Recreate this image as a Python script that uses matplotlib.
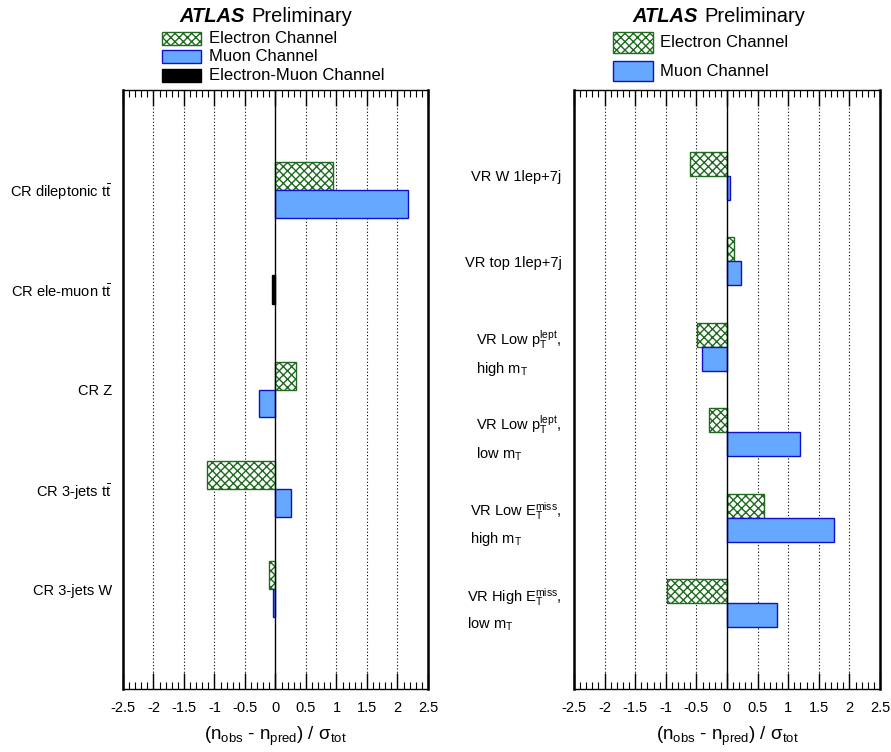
import numpy as np
import matplotlib
matplotlib.use("Agg")
import matplotlib.pyplot as plt
from matplotlib.patches import Rectangle

plt.rcParams["font.family"] = ["Liberation Sans", "DejaVu Sans"]
plt.rcParams["mathtext.fontset"] = "custom"
plt.rcParams["mathtext.rm"] = "Liberation Sans"
plt.rcParams["mathtext.it"] = "Liberation Sans:italic"
plt.rcParams["mathtext.bf"] = "Liberation Sans:bold"
plt.rcParams["hatch.linewidth"] = 1.0

# ---------------- data ----------------
cr_labels = [r"CR dileptonic t$\bar{\mathrm{t}}$", r"CR ele-muon t$\bar{\mathrm{t}}$",
             "CR Z", r"CR 3-jets t$\bar{\mathrm{t}}$", "CR 3-jets W"]
cr_electron = [0.95, np.nan, 0.34, -1.13, -0.10]
cr_muon = [2.18, np.nan, -0.27, 0.25, -0.04]
cr_elemu = [np.nan, -0.05, np.nan, np.nan, np.nan]

vr_labels = ["VR W 1lep+7j", "VR top 1lep+7j",
             "VR Low $\\mathrm{p}_{\\mathrm{T}}^{\\mathrm{lept}}$,\nhigh $\\mathrm{m}_{\\mathrm{T}}$",
             "VR Low $\\mathrm{p}_{\\mathrm{T}}^{\\mathrm{lept}}$,\nlow $\\mathrm{m}_{\\mathrm{T}}$",
             "VR Low $\\mathrm{E}_{\\mathrm{T}}^{\\mathrm{miss}}$,\nhigh $\\mathrm{m}_{\\mathrm{T}}$",
             "VR High $\\mathrm{E}_{\\mathrm{T}}^{\\mathrm{miss}}$,\nlow $\\mathrm{m}_{\\mathrm{T}}$"]
vr_electron = [-0.60, 0.12, -0.49, -0.29, 0.61, -0.98]
vr_muon = [0.05, 0.23, -0.41, 1.20, 1.75, 0.81]

GREEN = "#1f6a1f"
BLUE_FILL = "#66a8ff"
BLUE_EDGE = "#1010cc"
ele_style = dict(facecolor="white", edgecolor=GREEN, hatch="xxxx", linewidth=1.0)
mu_style = dict(facecolor=BLUE_FILL, edgecolor=BLUE_EDGE, linewidth=1.0)
emu_style = dict(facecolor="black", edgecolor="black", linewidth=1.0)

W, H = 891, 752
fig = plt.figure(figsize=(W / 100, H / 100), dpi=100)


def fx(x):
    return x / W


def fy(y):
    return 1 - y / H


def setup_axes(ax, labels, pad):
    n = len(labels)
    ax.set_xlim(-2.5, 2.5)
    ax.set_ylim(n + 1, 0)
    for v in [-2, -1.5, -1, -0.5, 0.5, 1, 1.5, 2]:
        ax.axvline(v, color="black", ls=(0, (1, 2)), lw=0.8, zorder=0)
    ax.axvline(0, color="black", lw=1.0, zorder=3)
    ax.set_xticks(np.arange(-2.5, 2.51, 0.5))
    ax.set_xticklabels(["-2.5", "-2", "-1.5", "-1", "-0.5", "0", "0.5", "1", "1.5", "2", "2.5"])
    ax.set_xticks(np.arange(-2.5, 2.51, 0.1), minor=True)
    ax.tick_params(axis="x", which="both", direction="in", top=True, bottom=True,
                   labelsize=10.5, pad=9)
    ax.tick_params(axis="x", which="major", length=11.5, width=1.0)
    ax.tick_params(axis="x", which="minor", length=5, width=0.8)
    ax.set_yticks(np.arange(1, n + 1))
    ax.set_yticklabels(labels, multialignment="left", linespacing=1.6)
    ax.tick_params(axis="y", length=0, labelsize=10.5, pad=pad)
    ax.spines["left"].set_linewidth(1.8)
    ax.spines["right"].set_linewidth(1.8)
    ax.spines["top"].set_linewidth(1.0)
    ax.spines["bottom"].set_linewidth(1.0)


def title(xr, xl):
    fig.text(fx(xr), fy(22), "ATLAS", ha="right", va="baseline", fontsize=14.5,
             fontweight="bold", fontstyle="italic")
    fig.text(fx(xl), fy(22), "Preliminary", ha="left", va="baseline", fontsize=14.5)


def legend_entry(x0, x1, y0, y1, style, text, tx):
    fig.add_artist(Rectangle((fx(x0), fy(y1)), fx(x1 - x0), (y1 - y0) / H,
                             transform=fig.transFigure, **style))
    fig.text(fx(tx), fy((y0 + y1) / 2), text, ha="left", va="center", fontsize=12)


# ---------------- left panel: control regions ----------------
ax1 = fig.add_axes([fx(123), fy(689), fx(428 - 123), (689 - 90) / H])
pos = np.arange(1, len(cr_labels) + 1)
bh = 0.28
ax1.barh(pos - bh / 2, cr_electron, height=bh, zorder=2, **ele_style)
ax1.barh(pos + bh / 2, cr_muon, height=bh, zorder=2, **mu_style)
ax1.barh(pos, cr_elemu, height=0.29, zorder=2, **emu_style)
setup_axes(ax1, cr_labels, pad=8)

title(245, 251)
legend_entry(162, 201, 32, 45, ele_style, "Electron Channel", 209)
legend_entry(162, 201, 50, 63, mu_style, "Muon Channel", 209)
legend_entry(162, 201, 69, 82, emu_style, "Electron-Muon Channel", 209)

# ---------------- right panel: validation regions ----------------
ax2 = fig.add_axes([fx(574), fy(689), fx(880 - 574), (689 - 90) / H])
pos = np.arange(1, len(vr_labels) + 1)
ax2.barh(pos - bh / 2, vr_electron, height=bh, zorder=2, **ele_style)
ax2.barh(pos + bh / 2, vr_muon, height=bh, zorder=2, **mu_style)
setup_axes(ax2, vr_labels, pad=9)

title(698, 704)
legend_entry(613, 653, 32, 53, ele_style, "Electron Channel", 660)
legend_entry(613, 653, 61, 81, mu_style, "Muon Channel", 660)

for cx in (275, 727):
    fig.text(fx(cx), fy(740), "(n$_{\\mathrm{obs}}$ - n$_{\\mathrm{pred}}$) / σ$_{\\mathrm{tot}}$",
             ha="center", va="baseline", fontsize=13.5)

fig.savefig("out.png", dpi=100)
